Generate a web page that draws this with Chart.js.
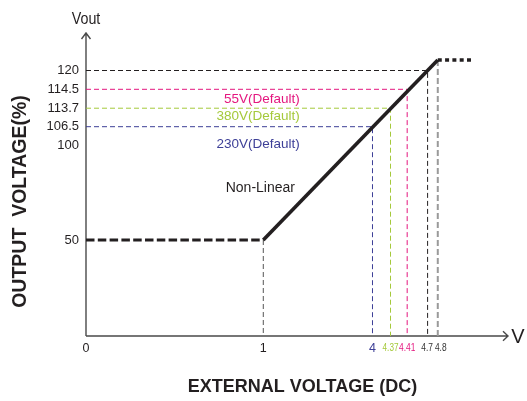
<!DOCTYPE html>
<html>
<head>
<meta charset="utf-8">
<script src="https://cdn.jsdelivr.net/npm/chart.js@4/dist/chart.umd.min.js"></script>
<style>
  html, body { margin: 0; padding: 0; background: #ffffff; }
  #wrap { width: 527px; height: 401px; }
</style>
</head>
<body>
<div id="wrap"><canvas id="c" width="527" height="401"></canvas></div>
<script>
// ---------------- data ----------------
const xTickValues = [0, 1, 4, 4.37, 4.41, 4.7, 4.8];
const xTickLabels = ['0', '1', '4', '4.37', '4.41', '4.7', '4.8'];
const yTickValues = [50, 100, 106.5, 113.7, 114.5, 120];
const yTickLabels = ['50', '100', '106.5', '113.7', '114.5', '120'];

// output curve (external voltage -> output %)
const floorX = [0, 1];       const floorY = [50, 50];
const rampX = [1, 4.8];      const rampY = [50, 121.4];
const ceilX = [4.8, 5.0];    const ceilY = [121.4, 121.4];

// default set points
const setNames = ['230V(Default)', '380V(Default)', '55V(Default)'];
const setInputs = [4, 4.37, 4.41];
const setOutputs = [106.5, 113.7, 114.5];
const maxInput = 4.7;  const maxOutput = 120;
const limitInput = 4.8;

// ---------------- styles ----------------
const BLACK = '#231f20';
const BLUE = '#3d3f97';
const GREEN = '#a5c93b';
const PINK = '#e4177f';
const GRAY = '#9a9a9a';
const setColors = [BLUE, GREEN, PINK];
const xTickColors = [BLACK, BLACK, BLUE, GREEN, PINK, '#333333', '#333333'];
const xTickSizes = [12.5, 12.5, 12.5, 10.5, 10.5, 10.5, 10.5];
const xTickSquash = [1, 1, 1, 0.78, 0.8, 0.8, 0.8];
const xTickShift = [0, 0, 0, 0, 0, -0.5, 3];
const FONT = "'Liberation Sans', Arial, Helvetica, sans-serif";

// piecewise scale anchors: [value, fraction of axis length]
const xAnchors = [[0, 0], [1, 0.4201], [4, 0.6789], [4.37, 0.7216], [4.41, 0.7611], [4.7, 0.8095], [4.8, 0.8336], [5.2, 1]];
const yAnchors = [[0, 0], [50, 0.3168], [100, 0.6281], [106.5, 0.6908], [113.7, 0.7518], [114.5, 0.8142], [120, 0.8762], [125, 1]];

// ---------------- custom scale ----------------
class PiecewiseScale extends Chart.LinearScale {
  static id = 'piecewise';
  static defaults = {};
  _anchors() { return this.axis === 'x' ? xAnchors : yAnchors; }
  determineDataLimits() {
    const a = this._anchors();
    this.min = a[0][0];
    this.max = a[a.length - 1][0];
  }
  buildTicks() {
    const vals = this.axis === 'x' ? xTickValues : yTickValues;
    return vals.map(v => ({ value: v }));
  }
  _toDecimal(v) {
    const a = this._anchors();
    if (v <= a[0][0]) return a[0][1];
    for (let i = 1; i < a.length; i++) {
      if (v <= a[i][0]) {
        const [v0, f0] = a[i - 1], [v1, f1] = a[i];
        return f0 + (v - v0) / (v1 - v0) * (f1 - f0);
      }
    }
    return a[a.length - 1][1];
  }
  getPixelForValue(value) {
    return this.getPixelForDecimal(this._toDecimal(value));
  }
  getValueForPixel(pixel) {
    const d = this.getDecimalForPixel(pixel);
    const a = this._anchors();
    for (let i = 1; i < a.length; i++) {
      if (d <= a[i][1]) {
        const [v0, f0] = a[i - 1], [v1, f1] = a[i];
        return v0 + (d - f0) / (f1 - f0) * (v1 - v0);
      }
    }
    return a[a.length - 1][0];
  }
}
Chart.register(PiecewiseScale);

const pts = (xs, ys) => xs.map((x, i) => ({ x: x, y: ys[i] }));

// ---------------- datasets ----------------
const datasets = [];
datasets.push({ data: pts(rampX, rampY), borderColor: BLACK, borderWidth: 3.6, borderCapStyle: 'butt' });
datasets.push({ data: pts(floorX, floorY), borderColor: BLACK, borderWidth: 3.2, borderDash: [8.5, 3.3], borderCapStyle: 'butt' });
datasets.push({ data: pts(ceilX, ceilY), borderColor: BLACK, borderWidth: 3.6, borderDash: [4, 3.3], borderCapStyle: 'butt' });
// limit guide
datasets.push({ data: pts([limitInput, limitInput], [ceilY[0], 0]), borderColor: GRAY, borderWidth: 2, borderDash: [6, 3] });
// max guide
datasets.push({ data: pts([0, maxInput, maxInput], [maxOutput, maxOutput, 0]), borderColor: BLACK, borderWidth: 1, borderDash: [5, 3] });
// set point guides
setInputs.forEach((xv, i) => {
  datasets.push({ data: pts([0, xv, xv], [setOutputs[i], setOutputs[i], 0]), borderColor: setColors[i], borderWidth: 1, borderDash: [5, 3] });
});
// knee guide
datasets.push({ data: pts([floorX[1], floorX[1]], [floorY[1], 0]), borderColor: '#555555', borderWidth: 1, borderDash: [5, 3] });

datasets.forEach(d => { d.pointRadius = 0; d.fill = false; d.tension = 0; d.borderJoinStyle = 'miter'; });

// ---------------- annotations ----------------
const notes = [
  { text: setNames[2], x: 2.0, y: 114.08, color: PINK, size: 13.5, align: 'right' },
  { text: setNames[1], x: 2.0, y: 110.4, color: GREEN, size: 13.5, align: 'right' },
  { text: setNames[0], x: 2.0, y: 100.45, color: BLUE, size: 13.5, align: 'right' },
  { text: 'Non-Linear', x: 1.87, y: 77.5, color: BLACK, size: 14, align: 'right' }
];

const decor = {
  id: 'decor',
  beforeDatasetsDraw(chart) {
    const { ctx, chartArea: a } = chart;
    ctx.save();
    ctx.strokeStyle = '#4a4a4a';
    ctx.lineWidth = 1.4;
    ctx.beginPath();
    ctx.moveTo(a.left, a.bottom); ctx.lineTo(a.left, a.top);
    ctx.moveTo(a.left - 4.5, a.top + 6); ctx.lineTo(a.left, a.top); ctx.lineTo(a.left + 4.5, a.top + 6);
    ctx.moveTo(a.left, a.bottom); ctx.lineTo(a.right, a.bottom);
    ctx.moveTo(a.right - 5, a.bottom - 4.7); ctx.lineTo(a.right, a.bottom); ctx.lineTo(a.right - 5, a.bottom + 4.7);
    ctx.stroke();
    ctx.restore();
  },
  afterDraw(chart) {
    const { ctx, chartArea: a, scales } = chart;
    ctx.save();
    ctx.textBaseline = 'middle';
    notes.forEach(n => {
      ctx.fillStyle = n.color;
      ctx.font = n.size + 'px ' + FONT;
      ctx.textAlign = n.align;
      ctx.fillText(n.text, scales.x.getPixelForValue(n.x), scales.y.getPixelForValue(n.y));
    });
    // x tick labels (condensed lettering like the original)
    ctx.textAlign = 'center';
    scales.x.ticks.forEach((t, i) => {
      const px = scales.x.getPixelForValue(t.value) + xTickShift[i];
      ctx.save();
      ctx.translate(px, a.bottom + 12.5);
      ctx.scale(xTickSquash[i], 1);
      ctx.fillStyle = xTickColors[i];
      ctx.font = xTickSizes[i] + 'px ' + FONT;
      ctx.fillText(t.label, 0, 0);
      ctx.restore();
    });
    // axis end labels
    ctx.fillStyle = BLACK;
    ctx.save();
    ctx.translate(a.left, a.top - 14);
    ctx.scale(0.84, 1);
    ctx.font = '17px ' + FONT;
    ctx.fillText('Vout', 0, 0);
    ctx.restore();
    ctx.font = '20px ' + FONT;
    ctx.fillText('V', a.right + 10, a.bottom + 1);
    // axis titles
    ctx.font = 'bold 18px ' + FONT;
    ctx.fillText('EXTERNAL VOLTAGE (DC)', 302.5, a.bottom + 51.5);
    ctx.save();
    ctx.translate(21, 201.5);
    ctx.rotate(-Math.PI / 2);
    ctx.font = 'bold 19.5px ' + FONT;
    ctx.fillText('OUTPUT  VOLTAGE(%)', 0, 0);
    ctx.restore();
    ctx.restore();
  }
};

new Chart(document.getElementById('c'), {
  type: 'line',
  data: { datasets: datasets },
  options: {
    responsive: false,
    animation: false,
    events: [],
    layout: { padding: { top: 33, right: 19, left: 0, bottom: 0 } },
    plugins: { legend: { display: false }, tooltip: { enabled: false } },
    scales: {
      x: {
        type: 'piecewise',
        grid: { display: false, drawTicks: false },
        border: { display: false },
        afterFit: s => { s.height = 65; },
        ticks: {
          display: false, autoSkip: false, maxRotation: 0,
          callback: (v, i) => xTickLabels[i]
        }
      },
      y: {
        type: 'piecewise',
        grid: { display: false, drawTicks: false },
        border: { display: false },
        afterFit: s => { s.width = 86; },
        ticks: {
          autoSkip: false, padding: 7,
          callback: (v, i) => yTickLabels[i],
          color: BLACK,
          font: { family: FONT, size: 13 }
        }
      }
    }
  },
  plugins: [decor]
});
</script>
</body>
</html>
